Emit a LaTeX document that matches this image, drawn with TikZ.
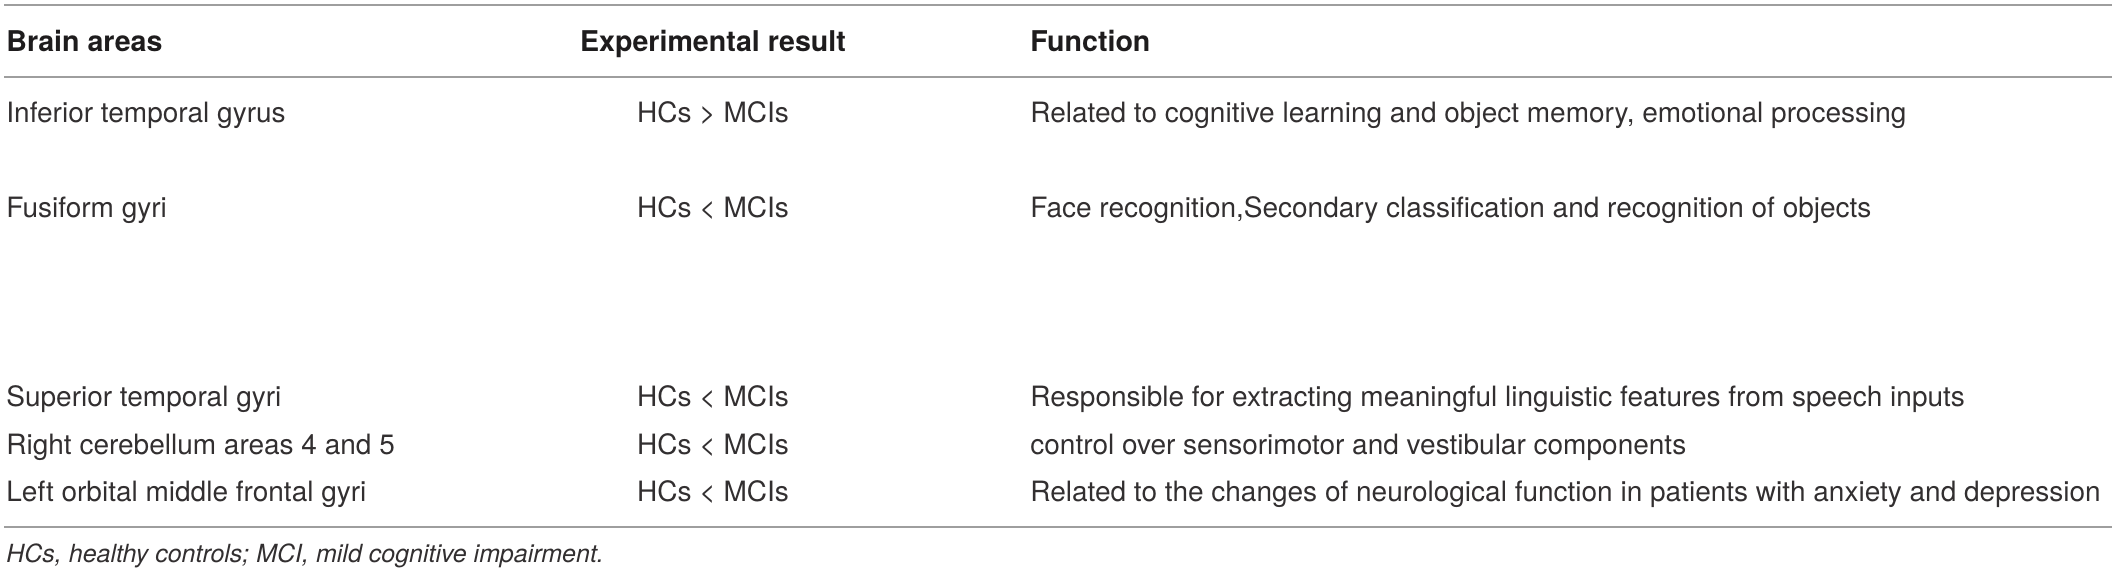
\documentclass[tikz,border=0pt]{standalone}
\usepackage{fontspec}
\setmainfont{TeX Gyre Heros}
\usepackage{tikz}

\definecolor{inkgray}{RGB}{50,47,48}
\definecolor{headink}{RGB}{30,28,29}
\definecolor{rulegray}{RGB}{158,158,158}

\tikzset{
    cell/.style={anchor=base west, inner sep=0pt, text=inkgray, font=\fontsize{14}{16}\selectfont},
    headcell/.style={cell, text=headink, font=\fontsize{14.3}{16}\selectfont\bfseries},
    notecell/.style={cell, font=\fontsize{12.5}{15}\selectfont\itshape},
    rule/.style={draw=rulegray, line width=1pt}
}

\begin{document}
\begin{tikzpicture}[x=0.5pt,y=-0.5pt]
    \useasboundingbox (0,0) rectangle (2117,575);

    \coordinate (topL) at (4,5);
    \coordinate (topR) at (2112,5);
    \coordinate (midL) at (4,77);
    \coordinate (midR) at (2112,77);
    \coordinate (botL) at (4,527);
    \coordinate (botR) at (2112,527);

    \draw [rule] (topL) -- (topR);
    \draw [rule] (midL) -- (midR);
    \draw [rule] (botL) -- (botR);

    \node [headcell] (areahead) at (6,51) {Brain areas};
    \node [headcell, anchor=base] (resulthead) at (713,51) {Experimental result};
    \node [headcell] (funchead) at (1030,51) {Function};

    \node [cell] (area1) at (6,122) {Inferior temporal gyrus};
    \node [cell, anchor=base] (result1) at (713,122) {HCs > MCIs};
    \node [cell] (func1) at (1030,122) {Related to cognitive learning and object memory, emotional processing};

    \node [cell] (area2) at (6,217) {Fusiform gyri};
    \node [cell, anchor=base] (result2) at (713,217) {HCs < MCIs};
    \node [cell] (func2) at (1030,217) {Face recognition,Secondary classification and recognition of objects};

    \node [cell] (area3) at (6,406) {Superior temporal gyri};
    \node [cell, anchor=base] (result3) at (713,406) {HCs < MCIs};
    \node [cell] (func3) at (1030,406) {Responsible for extracting meaningful linguistic features from speech inputs};

    \node [cell] (area4) at (6,454) {Right cerebellum areas 4 and 5};
    \node [cell, anchor=base] (result4) at (713,454) {HCs < MCIs};
    \node [cell] (func4) at (1030,454) {control over sensorimotor and vestibular components};

    \node [cell] (area5) at (6,501) {Left orbital middle frontal gyri};
    \node [cell, anchor=base] (result5) at (713,501) {HCs < MCIs};
    \node [cell] (func5) at (1030,501) {Related to the changes of neurological function in patients with anxiety and depression};

    \node [notecell] (note) at (6,562) {HCs, healthy controls; MCI, mild cognitive impairment.};
\end{tikzpicture}
\end{document}
